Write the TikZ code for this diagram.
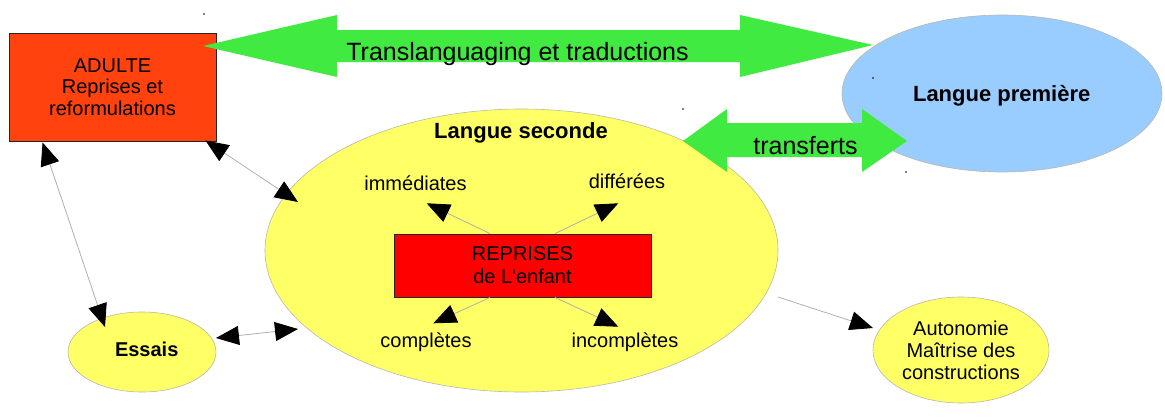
\documentclass[tikz,border=0pt]{standalone}
\usepackage{fontspec}
\setmainfont{Liberation Sans}
\usetikzlibrary{arrows.meta,shapes.geometric,calc}
\definecolor{adulteFill}{RGB}{255,66,14}
\definecolor{repFill}{RGB}{255,0,0}
\definecolor{yel}{RGB}{255,255,102}
\definecolor{blu}{RGB}{153,204,255}
\definecolor{grn}{RGB}{64,234,64}
\definecolor{rim}{RGB}{185,185,170}
\definecolor{lnk}{RGB}{175,175,175}
\newcommand{\straightq}{\XeTeXglyph\XeTeXcharglyph"27\relax}
\begin{document}
\begin{tikzpicture}[x=1pt,y=-1pt,
  font=\fontsize{20}{21.7}\selectfont,
  >={Triangle[length=23pt,width=19pt,color=black]},
  rbox/.style={draw=black!85,line width=0.9pt,inner sep=0pt,align=center},
  oval/.style={ellipse,draw=rim,line width=0.6pt,inner sep=0pt,fill=yel},
  link/.style={draw=lnk,line width=0.8pt},
  big/.style={font=\fontsize{25}{28}\selectfont,anchor=base},
  head/.style={font=\fontsize{22}{24}\selectfont\bfseries,anchor=base},
  lbl/.style={anchor=base},
  speck/.style={fill=black}]
\useasboundingbox (0,0) rectangle (1165,418);

% shapes
\node[oval,minimum width=513pt,minimum height=283pt] (ls) at (521.5,250.5) {};
\node[oval,fill=blu,minimum width=320pt,minimum height=157pt] (lp) at (1002,93.5) {};
\node[oval,minimum width=148pt,minimum height=80pt] (essais) at (142,352) {};
\node[oval,minimum width=176pt,minimum height=106pt,align=center,
      font=\fontsize{20}{22}\selectfont] (auto) at (961,350)
      {Autonomie\\Maîtrise des\\constructions};
\node[rbox,fill=adulteFill,minimum width=207pt,minimum height=108pt,
      font=\fontsize{20}{21.7}\selectfont] (adulte) at (112.5,87)
      {ADULTE\\Reprises et\\reformulations};
\node[rbox,fill=repFill,minimum width=257pt,minimum height=63pt,
      font=\fontsize{20}{23}\selectfont] (rep) at (522.5,265.5)
      {REPRISES\\de L\straightq enfant};

% texts
\node[head] (lpT) at (1001.7,101.7) {Langue première};
\node[head] (lsT) at (521,138) {Langue seconde};
\node[lbl,font=\fontsize{20}{22}\selectfont\bfseries] (essT) at (146.7,356) {Essais};
\node[lbl] (imm) at (415.5,190) {immédiates};
\node[lbl] (dif) at (627,188) {différées};
\node[lbl] (com) at (426,347) {complètes};
\node[lbl] (inc) at (625,347) {incomplètes};

% green double arrows
\fill[grn] (203,46) -- (337,15) -- (337,30) -- (740,30) -- (740,15) -- (873,45)
  -- (740,77) -- (740,62) -- (337,62) -- (337,77) -- cycle;
\node[big] (trans) at (517.5,60) {Translanguaging et traductions};
\fill[grn] (683,141) -- (727,109) -- (727,123) -- (862,123) -- (862,109) -- (907,141)
  -- (862,172) -- (862,157) -- (727,157) -- (727,172) -- cycle;
\node[big] (transf) at (805.5,154) {transferts};

% connectors
\draw[link,<->] ($(adulte.south east)+(-11,-1)$) -- ($(ls.center)+(-223.5,-48.5)$);
\draw[link,<->] ($(adulte.south west)+(34,1)$) -- ($(essais.center)+(-37,-25)$);
\draw[link,<->] ($(essais.center)+(74,-14)$) -- ($(ls.center)+(-223.5,78.5)$);
\draw[link,->] ($(ls.center)+(256.5,46.5)$) -- ($(auto.center)+(-88,-22)$);

\draw[link,->] ($(rep.north)+(-32.5,0)$) -- ($(imm.base)+(11.2,13.3)$);
\draw[link,->] ($(rep.north)+(32.5,0)$) -- ($(dif.base)+(-8.7,15.3)$);
\draw[link,->] ($(rep.south)+(-32.5,0)$) -- ($(com.base)+(7.3,-23.7)$);
\draw[link,->] ($(rep.south)+(32.5,0)$) -- ($(inc.base)+(-6.7,-20.3)$);

% specks
\fill[speck] (204,14) circle (0.8);
\fill[speck] (683,109) circle (0.8);
\fill[speck] (873,78) circle (0.8);
\fill[speck] (906,172) circle (0.8);
\end{tikzpicture}
\end{document}
